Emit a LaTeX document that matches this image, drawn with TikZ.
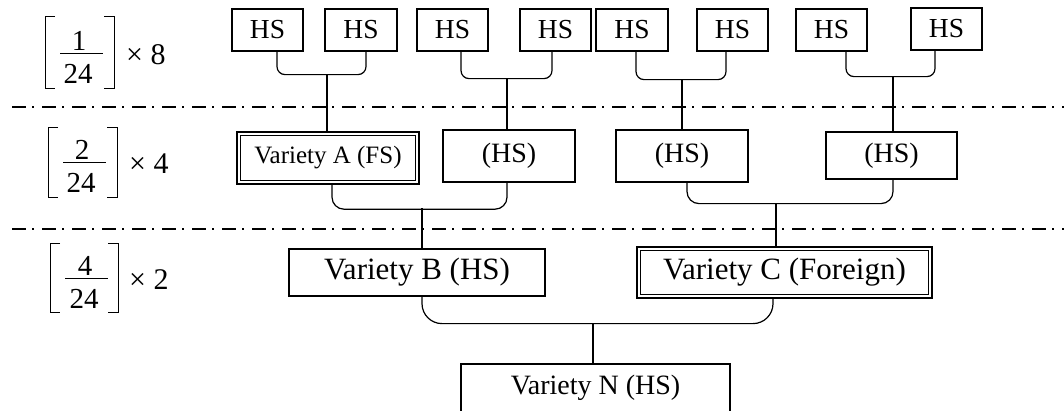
\documentclass[tikz,border=0pt]{standalone}
\usepackage{fontspec}
\setmainfont{Liberation Serif}
\begin{document}
\begin{tikzpicture}[x=1pt,y=-1pt,
  box/.style={draw, line width=1.2pt, inner sep=0pt},
  hs/.style={box, minimum width=71pt, minimum height=42pt, font=\fontsize{27.5}{30}\selectfont},
  dbl/.style={draw, line width=2.4pt, inner sep=0pt},
  conn/.style={line width=1.2pt},
  sepline/.style={line width=1.6pt, dash pattern=on 14pt off 6pt on 2pt off 8pt},
  digit/.style={inner sep=0pt, anchor=base, font=\fontsize{29}{30}\selectfont},
  mult/.style={inner sep=0pt, anchor=base west, font=\fontsize{30}{32}\selectfont},
  brk/.style={line width=1pt}]
\useasboundingbox (0,0) rectangle (1064,410);
\clip (0,0) rectangle (1064,410);

% separators
\coordinate (s1a) at (12,107); \coordinate (s1b) at (1064,107);
\coordinate (s2a) at (12,229); \coordinate (s2b) at (1064,229);
\draw[sepline] (s1a) -- (s1b);
\draw[sepline] (s2a) -- (s2b);

% left labels: [1/24] x 8
\draw[brk] (55,16) -- (45,16) -- (45,88) -- (55,88);
\draw[brk] (104,16) -- (114,16) -- (114,88) -- (104,88);
\draw[brk] (60,53) -- (103,53);
\node[digit] (n1) at (79,50) {1};
\node[digit] (d1) at (78,83) {24};
\node[mult] (x1) at (126,64) {× 8};
% [2/24] x 4
\draw[brk] (58,127) -- (48,127) -- (48,197) -- (58,197);
\draw[brk] (107,127) -- (117,127) -- (117,197) -- (107,197);
\draw[brk] (63,162) -- (106,162);
\node[digit] (n2) at (82,159) {2};
\node[digit] (d2) at (81,192) {24};
\node[mult] (x2) at (129,173) {× 4};
% [4/24] x 2
\draw[brk] (60,243) -- (50,243) -- (50,312) -- (60,312);
\draw[brk] (108,243) -- (118,243) -- (118,312) -- (108,312);
\draw[brk] (65,278) -- (108,278);
\node[digit] (n3) at (85,275) {4};
\node[digit] (d3) at (84,308) {24};
\node[mult] (x3) at (129,289) {× 2};

% top row
\node[hs] (t1) at (267.5,30) {HS};
\node[hs, minimum width=72pt] (t2) at (361,30) {HS};
\node[hs] (t3) at (452.5,30) {HS};
\node[hs] (t4) at (555.5,30) {HS};
\node[hs, minimum width=72pt] (t5) at (632,30) {HS};
\node[hs] (t6) at (732.5,30) {HS};
\node[hs] (t7) at (831.5,30) {HS};
\node[hs] (t8) at (946.5,29) {HS};

% second row
\node[dbl, minimum width=182pt, minimum height=52pt, font=\fontsize{25}{28}\selectfont] (va) at (328,158) {Variety A (FS)};
\draw[line width=1.4pt] ([shift={(4.5,4.5)}]va.north west) rectangle ([shift={(-4.5,-4.5)}]va.south east);
\node[box, minimum width=132pt, minimum height=52pt, font=\fontsize{28}{30}\selectfont] (m2) at (509,156) {(HS)};
\node[box, minimum width=132pt, minimum height=52pt, font=\fontsize{28}{30}\selectfont] (m3) at (682,156) {(HS)};
\node[box, minimum width=131pt, minimum height=47pt, font=\fontsize{28}{30}\selectfont] (m4) at (891.5,155.5) {(HS)};

% third row
\node[box, minimum width=256pt, minimum height=47pt, font=\fontsize{31}{34}\selectfont] (vb) at (417,272.5) {Variety B (HS)};
\node[dbl, minimum width=295pt, minimum height=51pt, font=\fontsize{31}{34}\selectfont] (vc) at (784.5,272.5) {Variety C (Foreign)};
\draw[line width=1.4pt] ([shift={(4.5,4.5)}]vc.north west) rectangle ([shift={(-4.5,-4.5)}]vc.south east);

% bottom
\node[box, minimum width=269pt, minimum height=48pt, font=\fontsize{28}{30}\selectfont] (vn) at (595.5,388) {Variety N (HS)};

% brackets row 1 -> row 2
\draw[conn, rounded corners=8pt] ([xshift=9.5pt]t1.south) -- ++(0,23) -| ([xshift=5pt]t2.south);
\draw[conn, rounded corners=8pt] ([xshift=8.5pt]t3.south) -- ++(0,27) -| ([xshift=-3.5pt]t4.south);
\draw[conn, rounded corners=8pt] ([xshift=4pt]t5.south) -- ++(0,28) -| ([xshift=-6.5pt]t6.south);
\draw[conn, rounded corners=8pt] ([xshift=14.5pt]t7.south) -- ++(0,25) -| ([xshift=-11.5pt]t8.south);
\coordinate (j1) at (327,74);
\coordinate (j2) at (507,78);
\coordinate (j3) at (682,79);
\coordinate (j4) at (893,76);
\draw[conn] (j1) -- (j1 |- va.north);
\draw[conn] (j2) -- (j2 |- m2.north);
\draw[conn] (j3) -- (j3 |- m3.north);
\draw[conn] (j4) -- (j4 |- m4.north);

% brackets row 2 -> row 3
\draw[conn, rounded corners=12pt] ([xshift=4pt]va.south) -- ++(0,24) -| ([xshift=-2pt]m2.south);
\draw[conn, rounded corners=12pt] ([xshift=5pt]m3.south) -- ++(0,21) -| ([xshift=1.5pt]m4.south);
\coordinate (j5) at (422,208);
\coordinate (j6) at (776,203);
\draw[conn] (j5) -- (j5 |- vb.north);
\draw[conn] (j6) -- (j6 |- vc.north);

% bracket row 3 -> N
\draw[conn, rounded corners=20pt] ([xshift=5pt]vb.south) -- ++(0,27) -| ([xshift=-11.5pt]vc.south);
\coordinate (j7) at (593,323);
\draw[conn] (j7) -- (j7 |- vn.north);
\end{tikzpicture}
\end{document}
